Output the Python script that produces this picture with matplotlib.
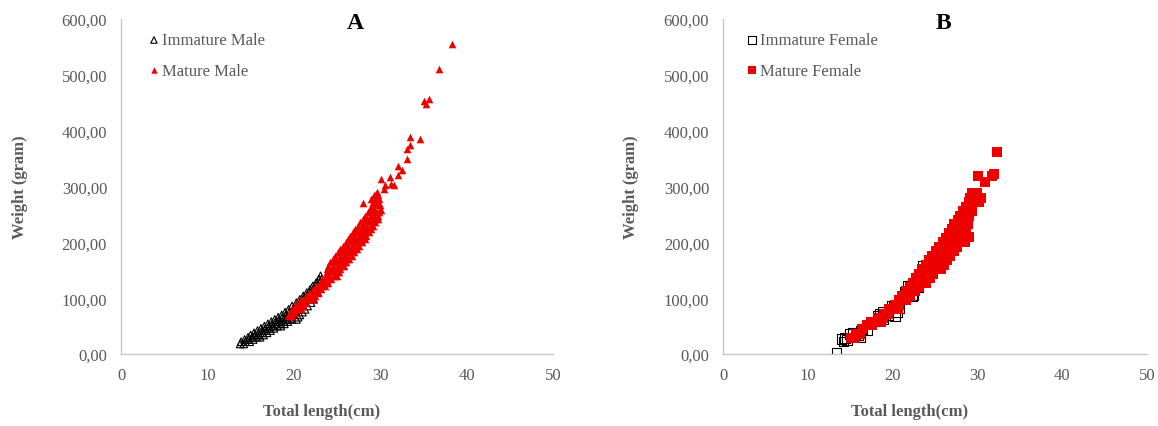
import matplotlib
matplotlib.use('Agg')
import matplotlib.pyplot as plt
from matplotlib.ticker import FuncFormatter

# ---- panel A: males, total length (cm) / weight (g) ----
im_male_len = [13.8, 14.2,
               13.9, 14.4, 14.9,
               14.3, 14.8, 15.3,
               14.7, 15.2, 15.7, 16.1,
               15.0, 15.5, 16.0, 16.5,
               15.4, 15.9, 16.4, 16.9,
               15.8, 16.3, 16.8, 17.3,
               16.2, 16.7, 17.2, 17.7,
               16.6, 17.1, 17.6, 18.1, 18.5,
               17.0, 17.5, 18.0, 18.5, 18.9,
               17.4, 17.9, 18.4, 18.9, 19.3,
               17.8, 18.3, 18.8, 19.3, 19.8, 20.3,
               18.2, 18.7, 19.2, 19.7, 20.5,
               18.6, 19.1, 19.6, 20.7,
               19.0, 19.5, 20.0, 21.0,
               19.4, 19.9, 21.3,
               19.8, 20.3, 21.6,
               20.3, 20.7, 22.0,
               20.7, 21.1, 22.3,
               21.1, 21.5,
               21.5, 21.9, 22.8,
               21.9, 22.3,
               22.2, 22.6,
               22.6, 23.0,
               22.9, 23.2,
               23.1]
im_male_wt = [18, 18,
              22, 22, 22,
              26, 26, 26,
              30, 30, 30, 30,
              34, 34, 34, 34,
              38, 38, 38, 38,
              42, 42, 42, 42,
              46, 46, 46, 46,
              50, 50, 50, 50, 50,
              54, 54, 54, 54, 54,
              58, 58, 58, 58, 58,
              62, 62, 62, 62, 62, 62,
              66, 66, 66, 66, 66,
              70, 70, 70, 70,
              75, 75, 75, 75,
              80, 80, 80,
              86, 86, 86,
              92, 92, 92,
              98, 98, 98,
              104, 104,
              110, 110, 110,
              116, 116,
              122, 122,
              128, 128,
              134, 134,
              140]

mat_male_len = [19.3, 19.8,
                19.6, 20.1,
                19.8, 20.3, 20.8,
                20.1, 20.6, 21.1,
                20.4, 20.9, 21.4,
                20.8, 21.3, 21.8, 22.2,
                21.4, 21.9, 22.4,
                21.8, 22.3, 22.8,
                22.2, 22.7, 23.2,
                22.6, 23.1, 23.6,
                23.0, 23.5, 24.0,
                23.3, 23.8, 24.3,
                23.6, 24.1, 24.6, 25.0,
                23.8, 24.3, 24.8, 25.2,
                23.9, 24.4, 24.9, 25.4,
                24.0, 24.5, 25.0, 25.4, 25.8,
                24.2, 24.7, 25.2, 25.7, 26.1,
                24.5, 25.0, 25.5, 26.0, 26.4,
                24.8, 25.3, 25.8, 26.3, 26.7,
                25.1, 25.6, 26.1, 26.6, 27.0,
                25.4, 25.9, 26.4, 26.9, 27.3,
                25.7, 26.2, 26.7, 27.2, 27.6,
                26.0, 26.5, 27.0, 27.5, 27.9,
                26.3, 26.8, 27.3, 27.8, 28.2,
                26.5, 27.0, 27.5, 28.0, 28.4,
                26.8, 27.3, 27.8, 28.3, 28.7,
                27.1, 27.6, 28.1, 28.6, 28.9,
                27.4, 27.9, 28.4, 28.9, 29.2,
                27.7, 28.2, 28.7, 29.1, 29.4,
                28.0, 28.5, 29.0, 29.4, 29.7,
                28.3, 28.8, 29.3, 29.8,
                28.6, 29.1, 29.6, 29.9,
                28.8, 29.3, 30.1,
                29.0, 29.5, 30.0,
                28.0, 29.2, 29.7,
                28.9, 29.4, 29.9,
                29.3, 29.8,
                29.6, 30.5,
                30.1, 30.6, 31.1, 31.2, 31.6,
                32.1, 32.1, 32.5, 33.1, 33.1, 33.5, 33.5, 34.6,
                35.1, 35.3, 35.7, 36.8, 38.3]
mat_male_wt = [68, 68,
               74, 74,
               80, 80, 80,
               86, 86, 86,
               92, 92, 92,
               98, 98, 98, 98,
               104, 104, 104,
               110, 110, 110,
               116, 116, 116,
               122, 122, 122,
               128, 128, 128,
               134, 134, 134,
               140, 140, 140, 140,
               146, 146, 146, 146,
               152, 152, 152, 152,
               158, 158, 158, 158, 158,
               164, 164, 164, 164, 164,
               170, 170, 170, 170, 170,
               176, 176, 176, 176, 176,
               182, 182, 182, 182, 182,
               188, 188, 188, 188, 188,
               194, 194, 194, 194, 194,
               200, 200, 200, 200, 200,
               206, 206, 206, 206, 206,
               212, 212, 212, 212, 212,
               218, 218, 218, 218, 218,
               224, 224, 224, 224, 224,
               230, 230, 230, 230, 230,
               236, 236, 236, 236, 236,
               242, 242, 242, 242, 242,
               248, 248, 248, 248,
               254, 254, 254, 254,
               260, 260, 258,
               266, 266, 266,
               270, 272, 272,
               278, 278, 278,
               284, 284,
               290, 296,
               314, 302, 317, 305, 302,
               337, 320, 330, 367, 349, 388, 374, 386,
               454, 448, 457, 510, 556]

# ---- panel B: females ----
im_fem_len = [13.4, 14.0, 14.2, 14.4, 14.6, 15.0, 15.3, 15.6, 15.9, 16.2, 16.4, 16.2, 17.0, 18.5,
              18.9, 18.3, 18.8, 19.9, 20.3, 20.1, 20.5, 21.2, 21.8, 22.3, 21.4, 22.0, 22.4, 23.6,
              23.0, 19.5, 20.8]
im_fem_wt = [2, 27, 22, 29, 25, 36, 39, 33, 33, 41, 45, 30, 42, 72,
             63, 69, 75, 86, 68, 87, 75, 104, 122, 104, 111, 123, 105, 158,
             120, 70, 82]

mat_fem_len = [15.1, 15.6,
               15.7, 16.2,
               16.4,
               17.0, 17.6,
               17.5, 18.1, 18.6,
               18.3, 18.9,
               19.0, 19.5,
               19.6, 20.2, 20.6,
               20.3, 20.8,
               20.7, 21.2, 21.6,
               21.1, 21.7, 22.1,
               21.6, 22.2, 22.7,
               22.0, 22.6, 23.1,
               22.4, 23.0, 23.5, 24.0,
               22.8, 23.4, 23.9, 24.4,
               23.1, 23.7, 24.3, 24.8,
               23.5, 24.1, 24.7, 25.2, 25.7,
               23.9, 24.5, 25.1, 25.6, 26.1,
               24.3, 24.9, 25.5, 26.0, 26.4,
               24.7, 25.3, 25.9, 26.4, 26.8,
               25.1, 25.7, 26.3, 26.8, 27.2,
               25.5, 26.1, 26.7, 27.2, 27.6,
               25.9, 26.5, 27.1, 27.6, 28.0, 28.6,
               26.3, 26.9, 27.5, 28.0, 28.4, 29.0,
               26.6, 27.2, 27.8, 28.3, 28.7,
               27.0, 27.6, 28.2, 28.7,
               27.3, 27.9, 28.5, 28.9,
               27.7, 28.3, 28.8,
               28.0, 28.6, 29.0,
               28.3, 28.9, 29.4,
               28.7, 29.3,
               29.0, 29.6, 30.2,
               29.1, 29.7, 30.4,
               29.4, 30.0,
               30.1, 30.9, 31.7, 32.0, 32.3]
mat_fem_wt = [28, 28,
              36, 36,
              44,
              52, 52,
              58, 58, 58,
              64, 64,
              72, 72,
              80, 80, 80,
              88, 88,
              96, 96, 96,
              104, 104, 104,
              112, 112, 112,
              120, 120, 120,
              128, 128, 128, 128,
              136, 136, 136, 136,
              144, 144, 144, 144,
              152, 152, 152, 152, 152,
              160, 160, 160, 160, 160,
              168, 168, 168, 168, 168,
              176, 176, 176, 176, 176,
              184, 184, 184, 184, 184,
              192, 192, 192, 192, 192,
              200, 200, 200, 200, 200, 200,
              208, 208, 208, 208, 208, 210,
              216, 216, 216, 216, 216,
              224, 224, 224, 224,
              232, 232, 232, 232,
              240, 240, 240,
              248, 248, 248,
              256, 256, 256,
              264, 264,
              272, 272, 272,
              280, 280, 280,
              288, 288,
              319, 308, 319, 322, 362]

x_ticks = [0, 10, 20, 30, 40, 50]
y_ticks = [0, 100, 200, 300, 400, 500, 600]

GRAY = '#595959'
RED = '#ee0000'
plt.rcParams['font.family'] = ['Liberation Serif', 'DejaVu Serif']

fig = plt.figure(figsize=(11.58, 4.27), dpi=100)
ax_a = fig.add_axes([0.1045, 0.1686, 0.373, 0.7845])
ax_b = fig.add_axes([0.6244, 0.1686, 0.366, 0.7845])


def style(ax, title, title_x, xlab_x, ylab_x):
    ax.set_xlim(0, 50)
    ax.set_ylim(0, 600)
    ax.set_xticks(x_ticks)
    ax.set_yticks(y_ticks)
    ax.yaxis.set_major_formatter(FuncFormatter(lambda v, p: f'{v:.2f}'.replace('.', ',')))
    ax.tick_params(length=0, labelsize=12, labelcolor=GRAY)
    ax.tick_params(axis='y', pad=10)
    ax.tick_params(axis='x', pad=9)
    for s in ['top', 'right']:
        ax.spines[s].set_visible(False)
    for s in ['left', 'bottom']:
        ax.spines[s].set_color('#c8c8c8')
        ax.spines[s].set_linewidth(1.0)
    ax.set_xlabel('Total length(cm)', fontsize=12, fontweight='bold', color=GRAY, va='center')
    ax.set_ylabel('Weight (gram)', fontsize=12, fontweight='bold', color=GRAY, va='center')
    ax.xaxis.set_label_coords(xlab_x, -0.17)
    ax.yaxis.set_label_coords(ylab_x, 0.5)
    ax.text(title_x, 0.99, title, transform=ax.transAxes, ha='center', va='center',
            fontsize=17, fontweight='bold', color='black')


# A: males
ax_a.scatter(im_male_len, im_male_wt, marker='^', s=30, facecolors='none',
             edgecolors='black', linewidths=0.8, label='Immature Male', zorder=2)
ax_a.scatter(mat_male_len, mat_male_wt, marker='^', s=30, color=RED,
             linewidths=0, label='Mature Male', zorder=3)
style(ax_a, 'A', 0.542, 0.465, -0.234)
ax_a.legend(loc='upper left', bbox_to_anchor=(0.03, 1.0), frameon=False, fontsize=12,
            labelcolor=GRAY, handletextpad=0.1, handlelength=0.8, labelspacing=0.85,
            borderpad=0.3, markerscale=0.85)

# B: females
ax_b.scatter(im_fem_len, im_fem_wt, marker='s', s=46, facecolors='none',
             edgecolors='black', linewidths=0.8, label='Immature Female', zorder=2)
ax_b.scatter(mat_fem_len, mat_fem_wt, marker='s', s=46, color=RED,
             linewidths=0, label='Mature Female', zorder=3)
style(ax_b, 'B', 0.519, 0.44, -0.217)
ax_b.legend(loc='upper left', bbox_to_anchor=(0.02, 1.0), frameon=False, fontsize=12,
            labelcolor=GRAY, handletextpad=0.1, handlelength=0.8, labelspacing=0.85,
            borderpad=0.3, markerscale=0.85)

fig.savefig('out.png', dpi=100)
